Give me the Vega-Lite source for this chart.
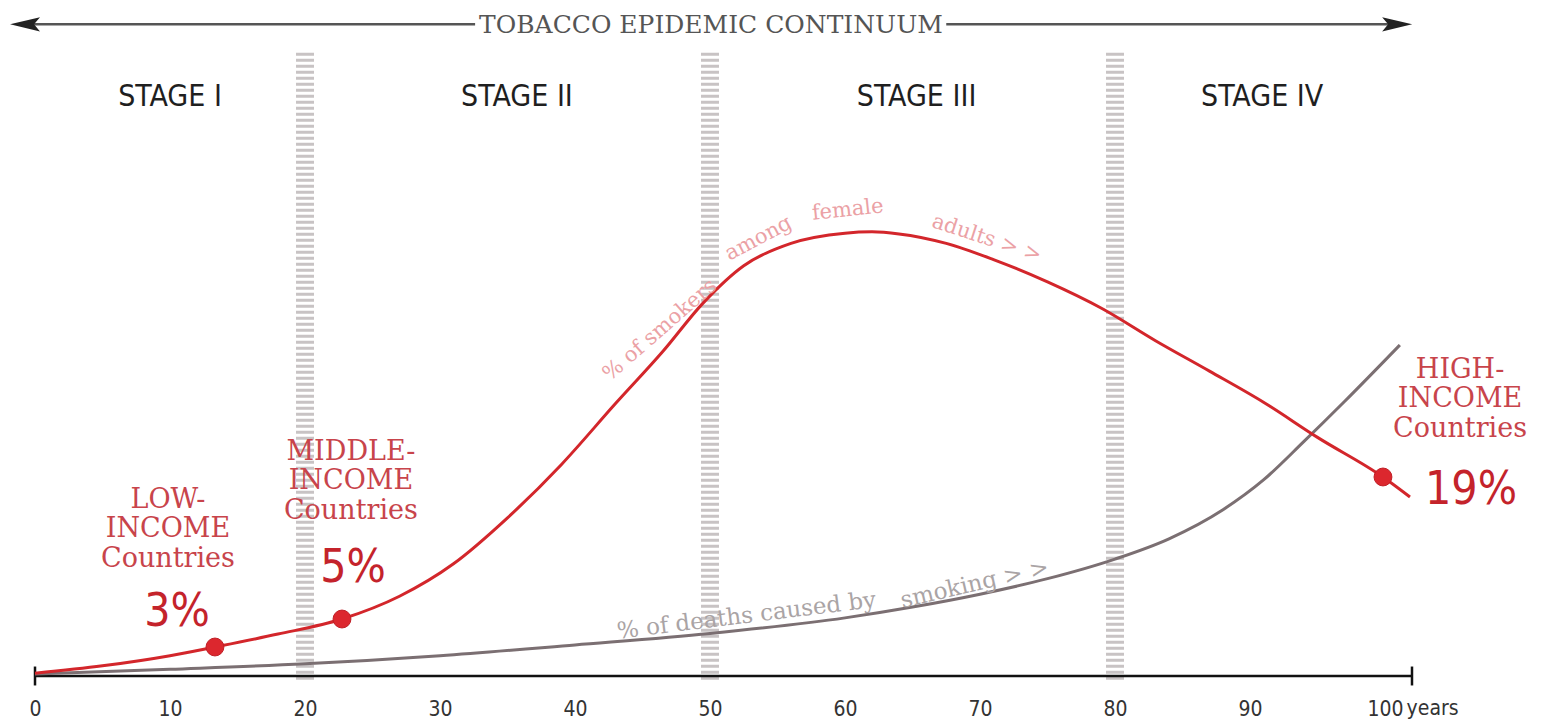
{
  "$schema": "https://vega.github.io/schema/vega-lite/v6.json",
  "width": 1542,
  "height": 722,
  "autosize": {"type": "none"},
  "padding": 0,
  "background": "white",
  "config": {"view": {"stroke": null}},
  "encoding": {
    "x": {
      "field": "x", "type": "quantitative", "title": null,
      "scale": {"domain": [-2.593, 111.63], "nice": false, "zero": false},
      "axis": {
        "orient": "bottom", "offset": -46, "domain": false, "ticks": false, "grid": false,
        "values": [0, 10, 20, 30, 40, 50, 60, 70, 80, 90, 100],
        "labelFont": "'DejaVu Sans Condensed', 'Liberation Sans Narrow', 'Roboto Condensed', sans-serif",
        "labelFontSize": 21, "labelColor": "#333333",
        "labelPadding": 33, "labelBaseline": "middle", "labelFlush": false, "labelOverlap": false
      }
    },
    "y": {
      "field": "y", "type": "quantitative", "title": null,
      "scale": {"domain": [-6.805, 100], "nice": false, "zero": false},
      "axis": null
    }
  },
  "layer": [
    {
      "data": {"values": [
        {"x": 20, "y": 92.2, "y_end": -0.9},
        {"x": 50, "y": 92.2, "y_end": -0.9},
        {"x": 80, "y": 92.2, "y_end": -0.9}
      ]},
      "mark": {"type": "rule", "stroke": "#c8c3c4", "strokeWidth": 18, "strokeDash": [3, 3]},
      "encoding": {"y2": {"field": "y_end"}}
    },
    {
      "data": {"values": [{"x": 0, "x_end": 102, "y": 0}]},
      "mark": {"type": "rule", "stroke": "#111111", "strokeWidth": 2.5},
      "encoding": {"x2": {"field": "x_end"}}
    },
    {
      "data": {"values": [{"x": 0, "y": 1.4, "y_end": -1.4}, {"x": 102, "y": 1.4, "y_end": -1.4}]},
      "mark": {"type": "rule", "stroke": "#111111", "strokeWidth": 2.5},
      "encoding": {"y2": {"field": "y_end"}}
    },
    {
      "data": {"values": [
        {"x": 0, "y": 0.3}, {"x": 10, "y": 1.0}, {"x": 20, "y": 1.8}, {"x": 30, "y": 3.0},
        {"x": 40, "y": 4.6}, {"x": 50, "y": 6.3}, {"x": 60, "y": 8.6}, {"x": 65, "y": 10.2},
        {"x": 70, "y": 12.1}, {"x": 75, "y": 14.4}, {"x": 80, "y": 17.3}, {"x": 84, "y": 20.3},
        {"x": 88, "y": 24.6}, {"x": 91, "y": 29.0}, {"x": 94, "y": 34.7}, {"x": 97, "y": 40.6},
        {"x": 101.1, "y": 48.96}
      ]},
      "mark": {"type": "line", "stroke": "#7b6f72", "strokeWidth": 3, "interpolate": "monotone"}
    },
    {
      "data": {"values": [
        {"x": 0, "y": 0.4}, {"x": 5, "y": 1.5}, {"x": 10, "y": 3.0}, {"x": 13.33, "y": 4.29},
        {"x": 18, "y": 6.2}, {"x": 22.74, "y": 8.43}, {"x": 27, "y": 11.8}, {"x": 31, "y": 16.6},
        {"x": 35, "y": 23.4}, {"x": 39, "y": 31.3}, {"x": 43, "y": 40.3}, {"x": 46.5, "y": 48.0},
        {"x": 49.5, "y": 55.2}, {"x": 52.5, "y": 60.7}, {"x": 56, "y": 64.0}, {"x": 60, "y": 65.5},
        {"x": 62, "y": 65.7}, {"x": 64, "y": 65.4}, {"x": 67.5, "y": 64.0}, {"x": 71, "y": 61.6},
        {"x": 75, "y": 58.3}, {"x": 79, "y": 54.4}, {"x": 83, "y": 49.6}, {"x": 87, "y": 45.1},
        {"x": 91, "y": 40.5}, {"x": 95, "y": 35.3}, {"x": 99.85, "y": 29.44}, {"x": 101.85, "y": 26.48}
      ]},
      "mark": {"type": "line", "stroke": "#d3262b", "strokeWidth": 3, "interpolate": "monotone"}
    },
    {
      "data": {"values": [
        {"group": "Low-income", "x": 13.33, "y": 4.29},
        {"group": "Middle-income", "x": 22.74, "y": 8.43},
        {"group": "High-income", "x": 99.85, "y": 29.44}
      ]},
      "mark": {"type": "point", "filled": true, "fill": "#dc272e", "opacity": 1, "size": 320, "stroke": "#c01f26", "strokeWidth": 1}
    },
    {
      "data": {"values": [
        {"text": "STAGE I", "x": 10, "y": 85.6},
        {"text": "STAGE II", "x": 35.7, "y": 85.6},
        {"text": "STAGE III", "x": 65.3, "y": 85.6},
        {"text": "STAGE IV", "x": 90.9, "y": 85.6}
      ]},
      "mark": {"type": "text", "font": "'DejaVu Sans Condensed', 'Liberation Sans Narrow', 'Roboto Condensed', sans-serif", "fontSize": 30, "color": "#1f1f1f", "align": "center", "baseline": "middle"},
      "encoding": {"text": {"field": "text"}}
    },
    {
      "data": {"values": [{"text": "TOBACCO EPIDEMIC CONTINUUM", "x": 50.07, "y": 96.3}]},
      "mark": {"type": "text", "font": "DejaVu Serif", "fontSize": 25, "color": "#555555", "align": "center", "baseline": "middle"},
      "encoding": {"text": {"field": "text"}}
    },
    {
      "data": {"values": [{"x": -1.1, "x_end": 32.6, "y": 96.4}, {"x": 67.5, "x_end": 101.4, "y": 96.4}]},
      "mark": {"type": "rule", "stroke": "#555555", "strokeWidth": 2.5},
      "encoding": {"x2": {"field": "x_end"}}
    },
    {
      "data": {"values": [{"x": -0.74, "y": 96.4}]},
      "mark": {"type": "point", "filled": true, "fill": "#222222", "opacity": 1, "size": 900, "shape": "M -1 0 L 1 -0.47 L 0.6 0 L 1 0.47 Z"}
    },
    {
      "data": {"values": [{"x": 100.9, "y": 96.4}]},
      "mark": {"type": "point", "filled": true, "fill": "#222222", "opacity": 1, "size": 900, "shape": "M 1 0 L -1 -0.47 L -0.6 0 L -1 0.47 Z"}
    },
    {
      "data": {"values": [
        {"text": "LOW-\nINCOME\nCountries", "x": 9.85, "y": 26.04},
        {"text": "MIDDLE-\nINCOME\nCountries", "x": 23.4, "y": 33.14},
        {"text": "HIGH-\nINCOME\nCountries", "x": 105.56, "y": 45.27}
      ]},
      "mark": {"type": "text", "font": "DejaVu Serif", "fontSize": 27, "color": "#c8444b", "align": "center", "baseline": "middle", "lineBreak": "\n", "lineHeight": 29.5},
      "encoding": {"text": {"field": "text"}}
    },
    {
      "data": {"values": [
        {"text": "3%", "x": 10.52, "y": 9.47},
        {"text": "5%", "x": 23.56, "y": 15.98},
        {"text": "19%", "x": 106.37, "y": 27.51}
      ]},
      "mark": {"type": "text", "font": "'DejaVu Sans Condensed', 'Liberation Sans Narrow', 'Roboto Condensed', sans-serif", "fontSize": 46, "color": "#c4232b", "align": "center", "baseline": "middle"},
      "encoding": {"text": {"field": "text"}}
    },
    {
      "data": {"values": [{"text": "% of smokers", "x": 46.3, "y": 51.18}]},
      "mark": {"type": "text", "font": "DejaVu Serif", "fontSize": 21, "color": "#eba1a5", "align": "center", "baseline": "middle", "angle": -41},
      "encoding": {"text": {"field": "text"}}
    },
    {
      "data": {"values": [{"text": "among", "x": 53.6, "y": 64.7}]},
      "mark": {"type": "text", "font": "DejaVu Serif", "fontSize": 21, "color": "#eba1a5", "align": "center", "baseline": "middle", "angle": -28},
      "encoding": {"text": {"field": "text"}}
    },
    {
      "data": {"values": [{"text": "female", "x": 60.2, "y": 68.93}]},
      "mark": {"type": "text", "font": "DejaVu Serif", "fontSize": 21, "color": "#eba1a5", "align": "center", "baseline": "middle", "angle": -6},
      "encoding": {"text": {"field": "text"}}
    },
    {
      "data": {"values": [{"text": "adults > >", "x": 70.5, "y": 64.7}]},
      "mark": {"type": "text", "font": "DejaVu Serif", "fontSize": 21, "color": "#eba1a5", "align": "center", "baseline": "middle", "angle": 18},
      "encoding": {"text": {"field": "text"}}
    },
    {
      "data": {"values": [{"text": "% of deaths caused by", "x": 52.7, "y": 8.9}]},
      "mark": {"type": "text", "font": "DejaVu Serif", "fontSize": 23, "color": "#aaa4a5", "align": "center", "baseline": "middle", "angle": -7},
      "encoding": {"text": {"field": "text"}}
    },
    {
      "data": {"values": [{"text": "smoking > >", "x": 69.6, "y": 13.6}]},
      "mark": {"type": "text", "font": "DejaVu Serif", "fontSize": 23, "color": "#aaa4a5", "align": "center", "baseline": "middle", "angle": -13},
      "encoding": {"text": {"field": "text"}}
    },
    {
      "data": {"values": [{"text": "years", "x": 101.6, "y": -4.88}]},
      "mark": {"type": "text", "font": "'DejaVu Sans Condensed', 'Liberation Sans Narrow', 'Roboto Condensed', sans-serif", "fontSize": 21, "color": "#333333", "align": "left", "baseline": "middle"},
      "encoding": {"text": {"field": "text"}}
    }
  ]
}
